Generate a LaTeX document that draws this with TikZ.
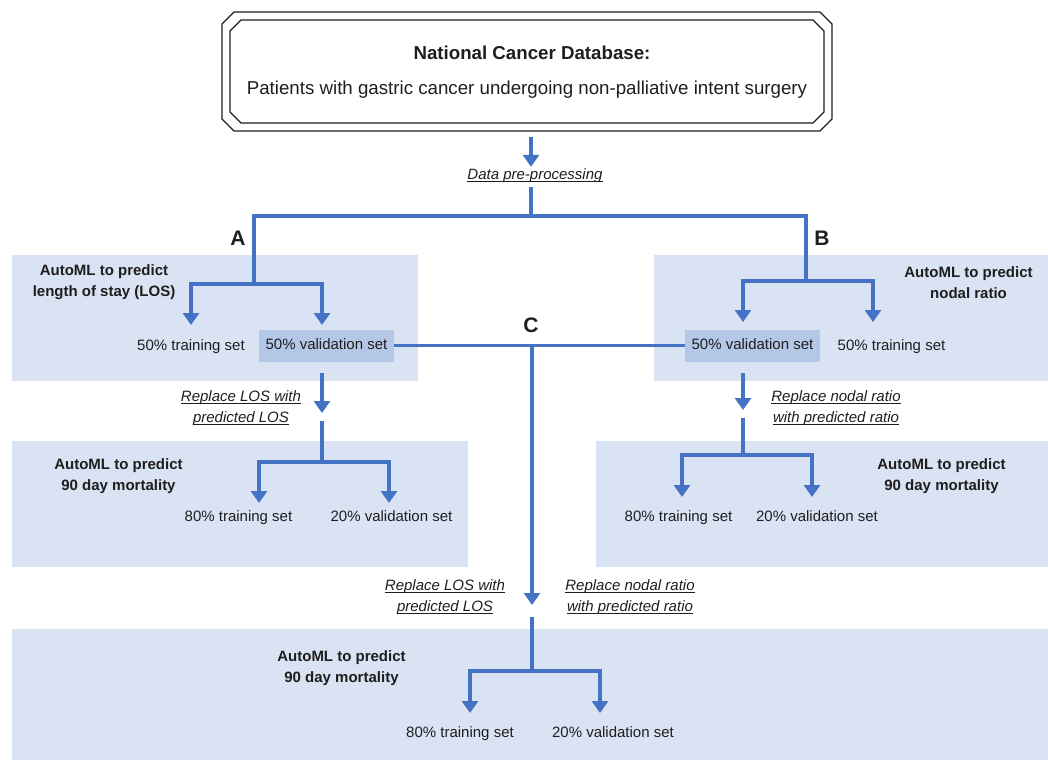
\documentclass[tikz,border=0pt]{standalone}
\usepackage{fontspec}
\setmainfont{Liberation Sans}
\usetikzlibrary{arrows.meta}
\definecolor{panel}{HTML}{DAE3F3}
\definecolor{valbox}{HTML}{B4C7E7}
\definecolor{conn}{HTML}{4472C4}
\definecolor{ink}{HTML}{1E1E1E}
\newsavebox\myulbox
\newcommand\myul[1]{\sbox\myulbox{#1}\rlap{\rule[-2.4pt]{\wd\myulbox}{0.9pt}}\usebox\myulbox}
\begin{document}
\begin{tikzpicture}[x=1pt,y=-1pt,
  every node/.style={text=ink, font=\fontsize{15}{21}\selectfont, inner sep=0pt},
  plain/.style={text height=11pt, text depth=3.5pt},
  head/.style={align=center, font=\fontsize{15}{21}\selectfont\bfseries},
  ital/.style={align=center, font=\fontsize{15}{21}\selectfont\itshape},
  letter/.style={font=\fontsize{21}{24}\selectfont\bfseries},
  valnode/.style={fill=valbox, minimum width=135pt, minimum height=32pt, text height=11pt, text depth=3.5pt},
  wire/.style={draw=conn, line width=3.8pt},
  arr/.style={wire, -{Triangle[width=16pt,length=12pt]}},
  panelfill/.style={fill=panel},
  frame/.style={draw=ink, line width=1.3pt, line join=miter}]
\useasboundingbox (0,0) rectangle (1048,760);

% panels
\fill[panelfill] (12,255) rectangle (418,381);
\fill[panelfill] (654,255) rectangle (1048,381);
\fill[panelfill] (12,441) rectangle (468,567);
\fill[panelfill] (596,441) rectangle (1048,567);
\fill[panelfill] (12,629) rectangle (1048,760);

% top box
\node[minimum width=610pt, minimum height=119pt] (db) at (527,71.5) {};
\draw[frame] (234,12) -- (820,12) -- (832,24) -- (832,119) -- (820,131) -- (234,131) -- (222,119) -- (222,24) -- cycle;
\draw[frame] (241,20) -- (813,20) -- (824,31) -- (824,112) -- (813,123) -- (241,123) -- (230,112) -- (230,31) -- cycle;
\node[font=\fontsize{18.7}{22}\selectfont\bfseries] (dbT) at (532,53) {National Cancer Database:};
\node[font=\fontsize{18.7}{22}\selectfont] (dbS) at (527,90) {Patients with gastric cancer undergoing non-palliative intent surgery};

% text nodes
\node[ital] (dp) at (535,176) {\myul{Data pre-processing}};
\node[letter] (lA) at (238,238) {A};
\node[letter] (lB) at (822,238) {B};
\node[letter] (lC) at (531,325) {C};

\node[head] (t1) at (104,282.5) {AutoML to predict\\length of stay (LOS)};
\node[plain] (tr1) at (191,347) {50\% training set};
\node[valnode] (va1) at (326.5,345.5) {50\% validation set};

\node[head] (t2) at (968.5,282.5) {AutoML to predict\\nodal ratio};
\node[valnode] (va2) at (752.5,345.5) {50\% validation set};
\node[plain] (tr2) at (891.5,347) {50\% training set};

\node[ital] (rl1) at (241,408.5) {\myul{Replace LOS with}\\\myul{predicted LOS}};
\node[ital] (rn1) at (836,408.5) {\myul{Replace nodal ratio}\\\myul{with predicted ratio}};

\node[head] (t3) at (118.5,476.5) {AutoML to predict\\90 day mortality};
\node[plain] (tr3) at (238.5,518) {80\% training set};
\node[plain] (va3) at (391.5,518) {20\% validation set};

\node[head] (t4) at (941.5,476.5) {AutoML to predict\\90 day mortality};
\node[plain] (tr4) at (678.5,518) {80\% training set};
\node[plain] (va4) at (817,518) {20\% validation set};

\node[ital] (rl2) at (445,597) {\myul{Replace LOS with}\\\myul{predicted LOS}};
\node[ital] (rn2) at (630,597) {\myul{Replace nodal ratio}\\\myul{with predicted ratio}};

\node[head] (t5) at (341.5,668) {AutoML to predict\\90 day mortality};
\node[plain] (tr5) at (460,734) {80\% training set};
\node[plain] (va5) at (613,734) {20\% validation set};

% junction coordinates
\coordinate (jAB) at (531,216);
\coordinate (bA) at (254,284);
\coordinate (bB) at (806,281);
\coordinate (a1) at (191,325);
\coordinate (a2) at (322,325);
\coordinate (a3) at (743,322);
\coordinate (a4) at (873,322);
\coordinate (jC) at (532,345.5);
\coordinate (cTip) at (532,605);
\coordinate (cS) at (532,617);
\coordinate (bC) at (532,671);
\coordinate (a9) at (470,713);
\coordinate (a10) at (600,713);
\coordinate (l1s) at (322,373);
\coordinate (l1t) at (322,413);
\coordinate (l2s) at (322,421);
\coordinate (bL) at (322,462);
\coordinate (a5) at (259,503);
\coordinate (a6) at (389,503);
\coordinate (r1s) at (743,373);
\coordinate (r1t) at (743,410);
\coordinate (r2s) at (743,418);
\coordinate (bR) at (743,455);
\coordinate (a7) at (682,497);
\coordinate (a8) at (812,497);

% connectors
\draw[arr, shorten <=6pt] (db.south -| jAB) -- ([yshift=2pt]dp.north -| jAB);
\draw[wire, shorten <=4pt] (dp.south -| jAB) -- (jAB);
\draw[wire] (bA) |- (jAB) -| (bB);
\draw[arr] (bA) -| (a1);
\draw[arr] (bA) -| (a2);
\draw[arr] (bB) -| (a3);
\draw[arr] (bB) -| (a4);
\draw[wire] (va1.east) -- (va2.west);
\draw[arr] (jC) -- (cTip);
\draw[wire] (cS) -- (bC);
\draw[arr] (bC) -| (a9);
\draw[arr] (bC) -| (a10);
\draw[arr] (l1s) -- (l1t);
\draw[wire] (l2s) -- (bL);
\draw[arr] (bL) -| (a5);
\draw[arr] (bL) -| (a6);
\draw[arr] (r1s) -- (r1t);
\draw[wire] (r2s) -- (bR);
\draw[arr] (bR) -| (a7);
\draw[arr] (bR) -| (a8);
\end{tikzpicture}
\end{document}
